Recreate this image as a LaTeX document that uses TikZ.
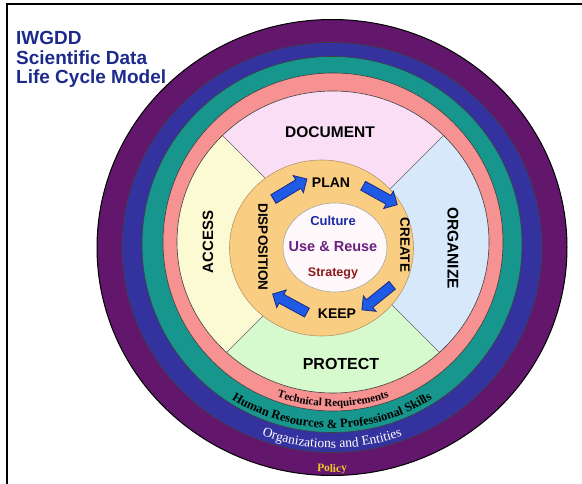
\documentclass[tikz,border=0pt]{standalone}
\usepackage{fontspec}
\setmainfont{Liberation Serif}
\setsansfont{Liberation Sans}
\usetikzlibrary{shapes.arrows,decorations.text}

\definecolor{policyC}{HTML}{62166C}
\definecolor{orgC}{HTML}{34329E}
\definecolor{hrC}{HTML}{16968C}
\definecolor{techC}{HTML}{F69292}
\definecolor{docC}{HTML}{FADEF6}
\definecolor{orgzC}{HTML}{D6E8FA}
\definecolor{protC}{HTML}{D6FACE}
\definecolor{accC}{HTML}{FCFAD2}
\definecolor{coreC}{HTML}{FACE82}
\definecolor{coreLine}{HTML}{B8956A}
\definecolor{centreC}{HTML}{FFF8FA}
\definecolor{arrowC}{HTML}{1E5AE6}
\definecolor{arrowLine}{HTML}{1A2A80}
\definecolor{titleC}{HTML}{1C2A8C}
\definecolor{cultureC}{HTML}{1A2AA8}
\definecolor{reuseC}{HTML}{6A2080}
\definecolor{strategyC}{HTML}{8B1A1A}
\definecolor{goldC}{HTML}{ECC828}

\newcommand\setfs[1]{\fontsize{#1}{#1}\selectfont}

\tikzset{
  ring/.style={draw=black!75, line width=0.6pt},
  divider/.style={draw=black!60, line width=0.7pt},
  lbl/.style={inner sep=0pt, font=\sffamily\bfseries},
  titletext/.style={inner sep=0pt, anchor=base west, text=titleC,
    font=\sffamily\bfseries\setfs{19}},
  blockarrow/.style={single arrow, draw=arrowLine, fill=arrowC,
    line width=0.8pt, inner xsep=0pt, inner ysep=4.6pt,
    minimum width=0pt, minimum height=39pt,
    single arrow head extend=5pt, single arrow head indent=0pt},
  bandtext/.style={decorate, decoration={text along path, text align=center, text={#1}}}
}

\begin{document}
\begin{tikzpicture}[x=1pt,y=-1pt]
\useasboundingbox (0,0) rectangle (582,484);

% frame
\draw[line width=1.6pt] (7,484) -- (7,4) -- (582,4);

% outer rings
\filldraw[fill=policyC, draw=black, line width=1pt] (332,247.5) ellipse [x radius=235, y radius=228];
\filldraw[fill=orgC, ring] (332,247.5) ellipse [x radius=210, y radius=205];
\filldraw[fill=hrC, ring] (332,244.5) ellipse [x radius=190, y radius=188];
\filldraw[fill=techC, ring] (333,242) ellipse [x radius=170, y radius=169];

% four quadrants
\begin{scope}
  \clip (333,242) ellipse [x radius=156, y radius=151];
  \fill[docC]  (333,246) -- ++(-260,-260) -- ++(520,0) -- cycle;
  \fill[orgzC] (333,246) -- ++(260,-260) -- ++(0,520) -- cycle;
  \fill[protC] (333,246) -- ++(260,260) -- ++(-520,0) -- cycle;
  \fill[accC]  (333,246) -- ++(-260,260) -- ++(0,-520) -- cycle;
  \draw[divider] (333,246) -- ++(-260,-260)
                 (333,246) -- ++(260,-260)
                 (333,246) -- ++(260,260)
                 (333,246) -- ++(-260,260);
\end{scope}
\draw[ring] (333,242) ellipse [x radius=156, y radius=151];

% cycle disk and centre
\filldraw[fill=coreC, draw=coreLine, line width=0.6pt] (321.5,248) ellipse [x radius=92, y radius=88];
\filldraw[fill=centreC, draw=black!35, line width=0.6pt] (335,247.5) ellipse [x radius=52, y radius=44.5];

% title
\node[titletext] (t1) at (16,45) {IWGDD};
\node[titletext] (t2) at (16,64.3) {Scientific Data};
\node[titletext] (t3) at (16,83.5) {Life Cycle Model};

% quadrant labels
\node[lbl, font=\sffamily\bfseries\setfs{15.5}] (document) at (330,132) {DOCUMENT};
\node[lbl, font=\sffamily\bfseries\setfs{15.5}, rotate=-90] (organize) at (453,248) {ORGANIZE};
\node[lbl, font=\sffamily\bfseries\setfs{16}] (protect) at (341,364) {PROTECT};
\node[lbl, font=\sffamily\bfseries\setfs{15}, rotate=90] (access) at (208,242) {ACCESS};

% cycle labels
\node[lbl, font=\sffamily\bfseries\setfs{14}] (plan) at (331,183) {PLAN};
\node[lbl, font=\sffamily\bfseries\setfs{13.5}, rotate=-90] (create) at (405,245) {CREATE};
\node[lbl, font=\sffamily\bfseries\setfs{14}] (keep) at (337,314) {KEEP};
\node[lbl, font=\sffamily\bfseries\setfs{13.5}, rotate=-90] (disposition) at (263,247) {DISPOSITION};

% centre labels
\node[lbl, font=\sffamily\bfseries\setfs{13}, text=cultureC] (culture) at (333,221) {Culture};
\node[lbl, font=\sffamily\bfseries\setfs{14.5}, text=reuseC] (reuse) at (333,247) {Use \& Reuse};
\node[lbl, font=\sffamily\bfseries\setfs{12.5}, text=strategyC] (strategy) at (333,273) {Strategy};

% cycle arrows
\node[blockarrow, rotate=31] (a1) at (288,190.3) {};
\node[blockarrow, rotate=-29] (a2) at (378,194) {};
\node[blockarrow, rotate=219] (a3) at (379,296) {};
\node[blockarrow, rotate=151.5] (a4) at (292,304.5) {};

% band captions
\path[bandtext={|\bfseries\setfs{11}|Technical Requirements}]
  (333,242) ++(150:166 and 164.5) arc[start angle=150, end angle=30, x radius=166, y radius=164.5];
\path[bandtext={|\bfseries\setfs{12.5}|Human Resources {\&} Professional Skills}]
  (332,244.5) ++(150:186 and 183.5) arc[start angle=150, end angle=30, x radius=186, y radius=183.5];
\path[bandtext={|\color{white}\setfs{13.5}|Organizations and Entities}]
  (332,247.5) ++(150:205 and 200.5) arc[start angle=150, end angle=30, x radius=205, y radius=200.5];
\path[bandtext={|\color{goldC}\bfseries\setfs{11.5}|Policy}]
  (332,247.5) ++(150:231 and 224.5) arc[start angle=150, end angle=30, x radius=231, y radius=224.5];
\end{tikzpicture}
\end{document}
